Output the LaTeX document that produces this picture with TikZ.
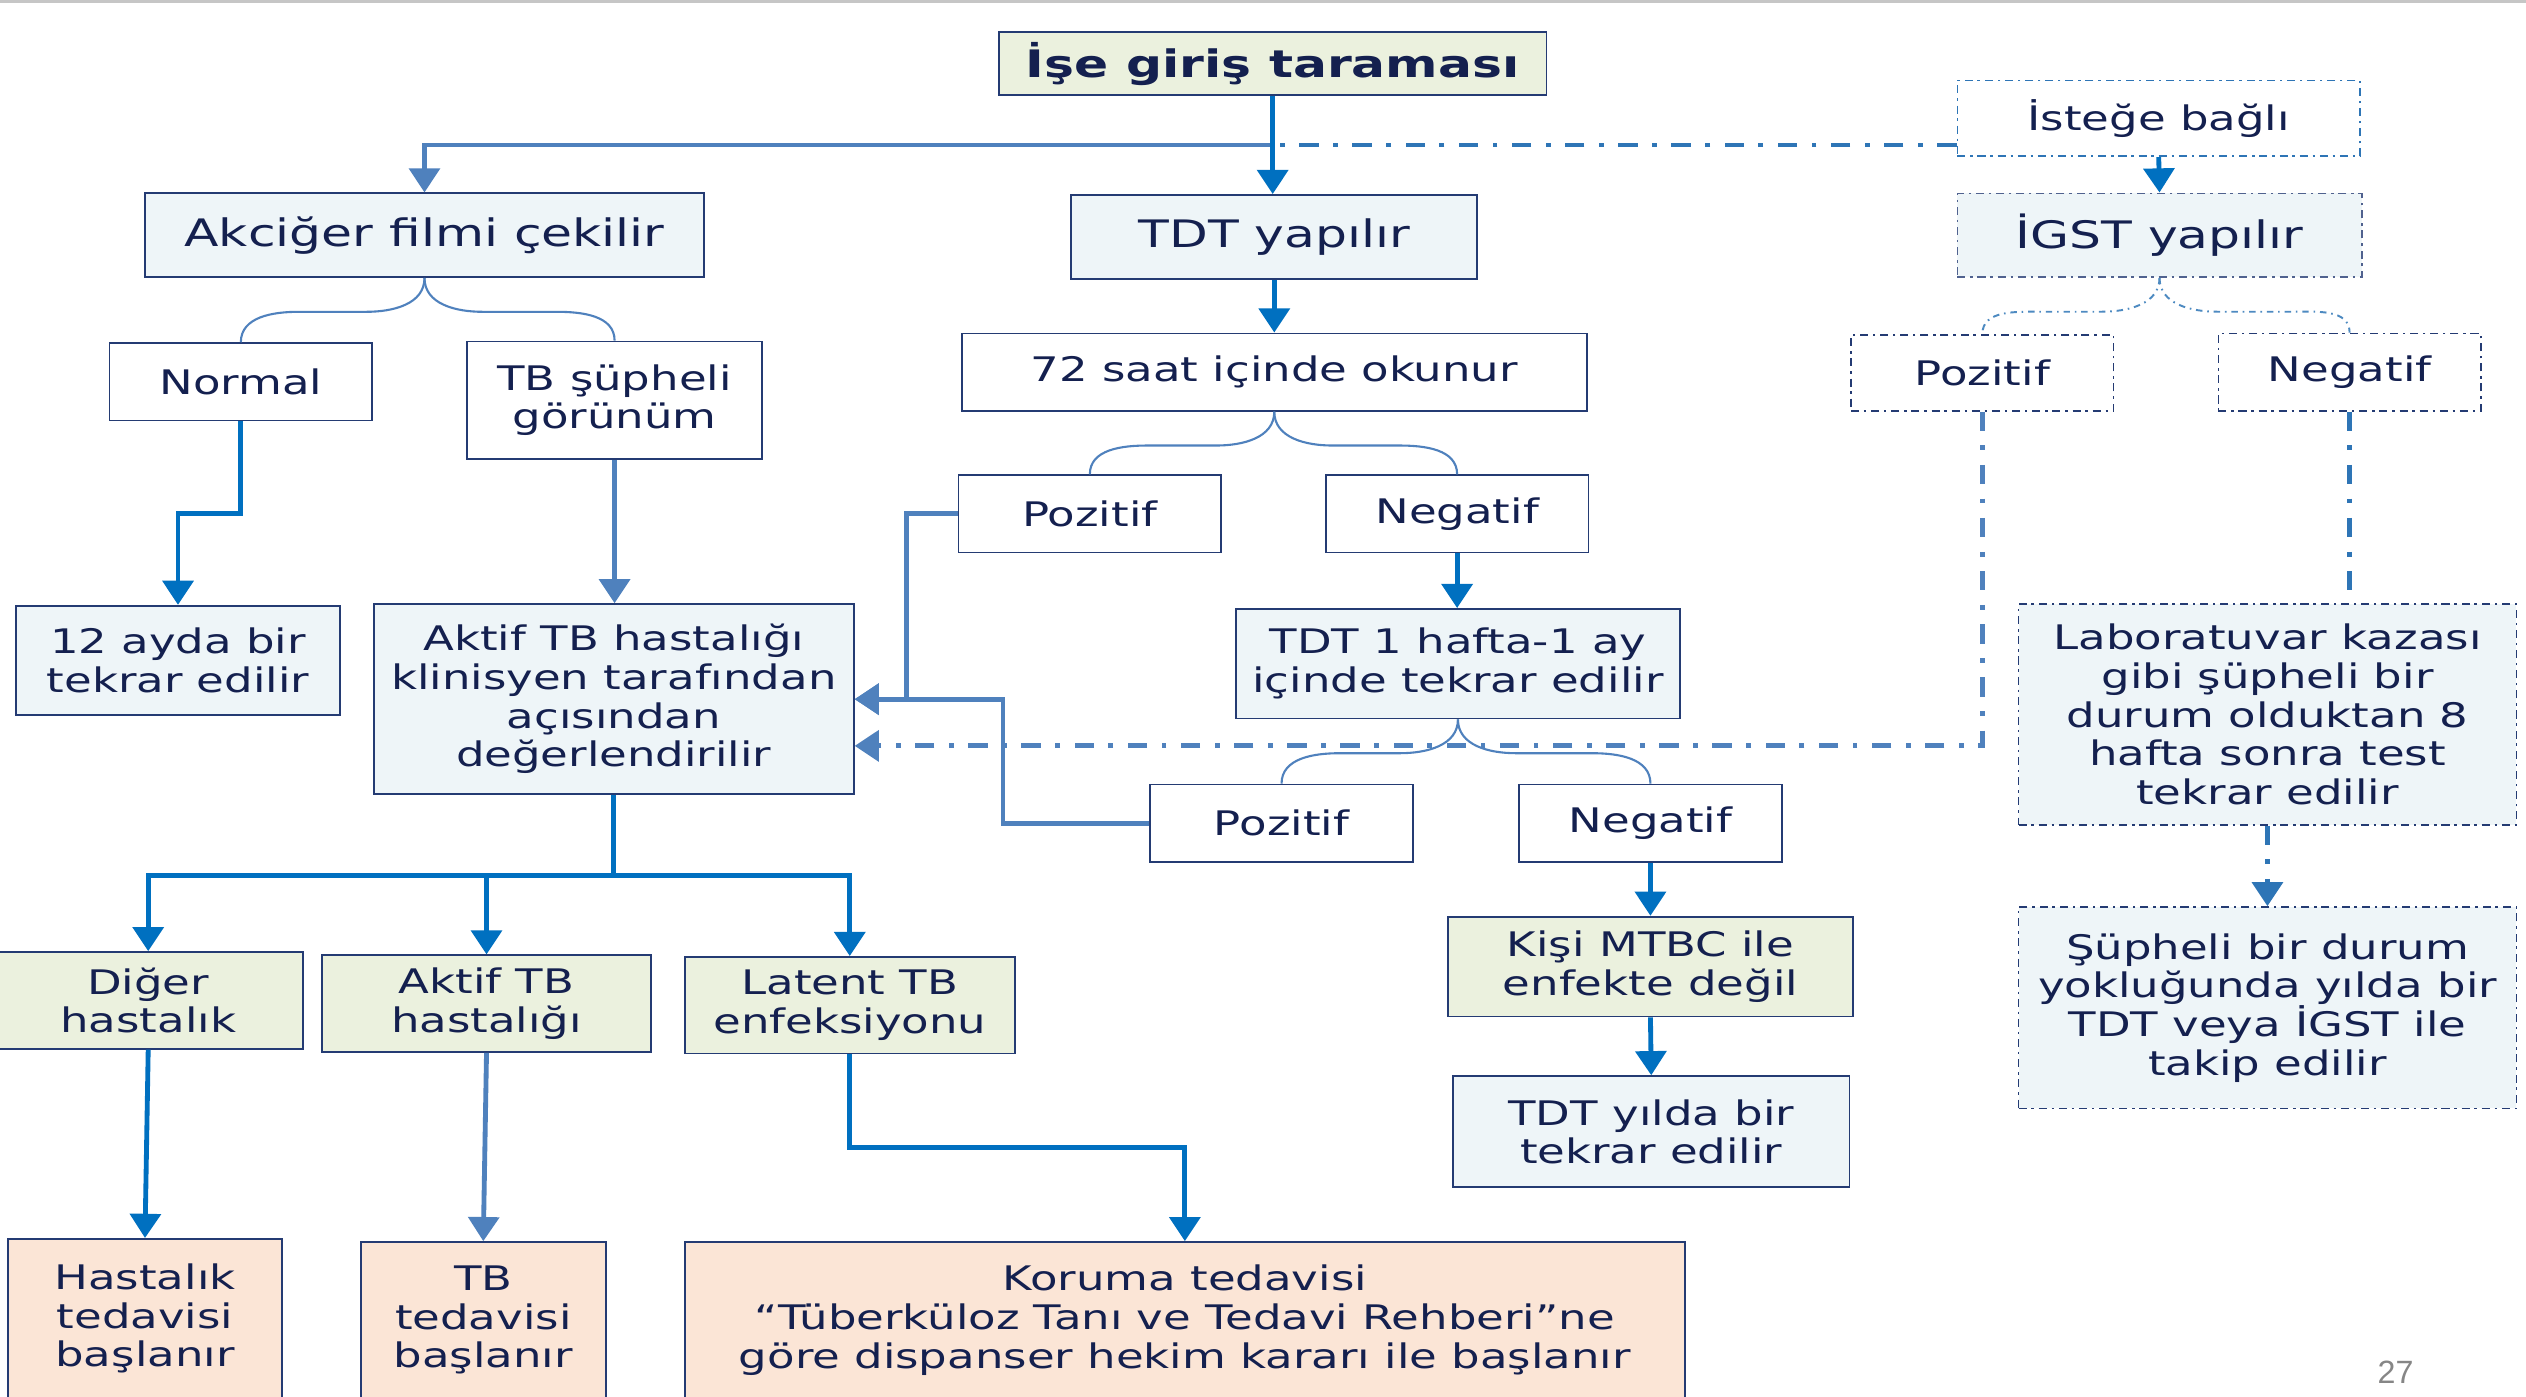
\documentclass[tikz,border=0pt]{standalone}
\usepackage{fontspec}
\setmainfont[FakeStretch=1.33]{DejaVu Sans}
\newfontfamily\pgnumfont{Liberation Sans}
\usetikzlibrary{arrows.meta,calc}
\definecolor{bordc}{HTML}{243B73}
\definecolor{txt}{HTML}{14204F}
\definecolor{fblue}{HTML}{EEF5F8}
\definecolor{fgreen}{HTML}{EBF1DE}
\definecolor{fpeach}{HTML}{FBE5D6}
\definecolor{cA}{HTML}{0070C0}
\definecolor{cB}{HTML}{4F81BD}
\definecolor{cD}{HTML}{2E75B6}
\newcommand\nd[7]{\node[#6,minimum width=#4pt,minimum height=#5pt] (#1) at (#2,#3) {#7};}
\newcommand\bracepair[4]{%
 \path (#2.south) ++(0,21) coordinate (#2m);
 \draw[#1] (#2.south) to[out=-90,in=0] ($(#2m)+(-36,0)$) -- ($(#3.north |- #2m)+(36,0)$) to[out=180,in=90] (#3.north);
 \draw[#1] (#2.south) to[out=-90,in=180] ($(#2m)+(36,0)$) -- ($(#4.north |- #2m)+(-36,0)$) to[out=0,in=90] (#4.north);
}
\tikzset{
 bx/.style={draw=bordc,line width=1.1pt,inner sep=0pt,align=center,text=txt,font=\fontsize{21}{24}\selectfont},
 fb/.style={bx,fill=fblue},
 fg/.style={bx,fill=fgreen},
 fp/.style={bx,fill=fpeach},
 fw/.style={bx,fill=white},
 dbx/.style={draw=cD,line width=1pt,dash pattern=on 5pt off 3pt on 1.5pt off 3pt},
 tip/.style={-{Triangle[length=15pt,width=19pt]}},
 a1/.style={draw=cA,line width=3pt,tip},
 a2/.style={draw=cB,line width=3pt,tip},
 dd/.style={draw=cD,line width=3pt,dash pattern=on 12pt off 9pt on 3pt off 9pt},
 br/.style={draw=cB,line width=1.3pt},
 brd/.style={draw=cD!85,line width=1.2pt,dash pattern=on 4pt off 3pt on 1pt off 3pt},
}
\begin{document}
\begin{tikzpicture}[x=1pt,y=-1pt]
\useasboundingbox (0,0) rectangle (1568,867);
\fill[white] (0,0) rectangle (1568,867);
\draw[gray!45,line width=2pt] (0,1) -- (1568,1);

\nd{title}{790}{39.5}{340}{39}{fg,font=\bfseries\fontsize{23.5}{26}\selectfont}{İşe giriş taraması}
\nd{akc}{263.5}{146}{347}{52}{fb,font=\fontsize{23.5}{26}\selectfont}{Akciğer filmi çekilir}
\nd{tdt}{791}{147}{252}{52}{fb,font=\fontsize{23.5}{26}\selectfont}{TDT yapılır}
\nd{istege}{1340}{73.5}{250}{47}{fw,dbx}{İsteğe bağlı}
\nd{igst}{1340.5}{146}{251}{52}{fb,dbx,draw=bordc!80,font=\fontsize{23.5}{26}\selectfont}{İGST yapılır}
\nd{normal}{149.5}{237}{163}{48}{fw}{Normal}
\nd{tbs}{381.5}{248.5}{183}{73}{fw}{TB şüpheli\\görünüm}
\nd{h72}{791}{231}{388}{48}{fw}{72 saat içinde okunur}
\nd{ipoz}{1230.5}{231.5}{163}{47}{fw,dbx,draw=bordc}{Pozitif}
\nd{ineg}{1458.5}{231}{163}{48}{fw,dbx,draw=bordc}{Negatif}
\nd{poz1}{676.5}{319}{163}{48}{fw}{Pozitif}
\nd{neg1}{904.5}{319}{163}{48}{fw}{Negatif}
\nd{ay12}{110.5}{410}{201}{68}{fb}{12 ayda bir\\tekrar edilir}
\nd{aktif}{381}{434}{298}{118}{fb}{Aktif TB hastalığı\\klinisyen tarafından\\açısından\\değerlendirilir}
\nd{hafta}{905}{412}{276}{68}{fb}{TDT 1 hafta-1 ay\\içinde tekrar edilir}
\nd{lab}{1407.5}{443.5}{309}{137}{fb,dbx,draw=bordc}{Laboratuvar kazası\\gibi şüpheli bir\\durum olduktan 8\\hafta sonra test\\tekrar edilir}
\nd{poz2}{795.5}{511}{163}{48}{fw}{Pozitif}
\nd{neg2}{1024.5}{511}{163}{48}{fw}{Negatif}
\nd{mtbc}{1024.5}{600}{251}{62}{fg}{Kişi MTBC ile\\enfekte değil}
\nd{supheli}{1407.5}{625.5}{309}{125}{fb,dbx,draw=bordc}{Şüpheli bir durum\\yokluğunda yılda bir\\TDT veya İGST ile\\takip edilir}
\nd{yilda}{1025}{702.5}{246}{69}{fb}{TDT yılda bir\\tekrar edilir}
\nd{diger}{92}{621}{192}{60}{fg}{Diğer\\hastalık}
\nd{aktb}{302}{623}{204}{60}{fg}{Aktif TB\\hastalığı}
\nd{latent}{527.5}{624}{205}{60}{fg}{Latent TB\\enfeksiyonu}
\nd{hast}{90}{818.5}{170}{99}{fp}{Hastalık\\tedavisi\\başlanır}
\nd{tbted}{300}{819.5}{152}{97}{fp}{TB\\tedavisi\\başlanır}
\nd{koruma}{735.5}{819.5}{621}{97}{fp}{Koruma tedavisi\\“Tüberküloz Tanı ve Tedavi Rehberi”ne\\göre dispanser hekim kararı ile başlanır}
\node[text=gray!95,font=\pgnumfont\fontsize{20}{22}\selectfont] (pg) at (1487,852) {27};

% top connectors
\coordinate (j1) at (790,90);
\draw[dd] (j1 -| istege.west) -- (j1);
\draw[a2] (j1) -| (akc.north);
\draw[a1] (title.south) -- (title.south |- tdt.north);
\draw[a1] (istege.south) -- (igst.north);
\draw[a1] (tdt.south) -- (h72.north);

% braces
\bracepair{br}{akc}{normal}{tbs}
\bracepair{br}{h72}{poz1}{neg1}
\bracepair{brd}{igst}{ipoz}{ineg}
\bracepair{br}{hafta}{poz2}{neg2}

% left side
\draw[a1] (normal.south) -- ++(0,57) -| (ay12.north);
\draw[a2] (tbs.south) -- (tbs.south |- aktif.north);
\draw[a2] (poz1.west) -- ++(-32,0) |- (aktif.east);
\draw[a2] (poz2.west) -| ([xshift=92pt]aktif.east) -- (aktif.east);
\draw[dd,draw=cB,tip] (ipoz.south) |- ([yshift=-29pt]aktif.east);
\draw[a1] (neg1.south) -- (neg1.south |- hafta.north);
\draw[dd] (ineg.south) -- (ineg.south |- lab.north);
\draw[dd,tip] (lab.south) -- (supheli.north);
\draw[a1] (neg2.south) -- (mtbc.north);
\draw[a1] (mtbc.south) -- (yilda.north);

% bottom
\draw[a1] (aktif.south) -- ++(0,50) -| (diger.north);
\draw[a1] (aktif.south) -- ++(0,50) -| (aktb.north);
\draw[a1] (aktif.south) -- ++(0,50) -| (latent.north);
\draw[a1] (diger.south) -- (hast.north);
\draw[a2] (aktb.south) -- (tbted.north);
\draw[a1] (latent.south) -- ++(0,58) -| (koruma.north);
\end{tikzpicture}
\end{document}
